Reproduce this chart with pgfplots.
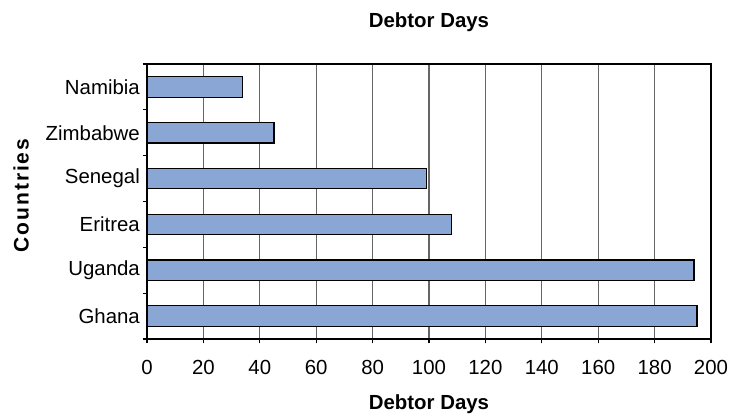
\documentclass[border=0pt]{standalone}
\usepackage{fontspec}
\setmainfont{Liberation Sans}
\newfontfamily\spacedbold[LetterSpace=9]{Liberation Sans Bold}
\usepackage{pgfplots}
\pgfplotsset{compat=1.18}
\definecolor{barblue}{RGB}{138,166,212}
\begin{document}
\fontsize{10.2pt}{12pt}\selectfont
\begin{tikzpicture}
\useasboundingbox (-73.5pt,-39pt) rectangle (292.5pt,169.5pt);
\begin{axis}[
  name=ax, at={(0,0)}, anchor=south west,
  scale only axis, width=282pt, height=137.5pt,
  xbar, bar width=10.2pt,
  xmin=0, xmax=200, ymin=-0.5, ymax=5.5,
  xtick={0,20,...,200},
  ytick={-0.5,0.5,...,5.5},
  yticklabels={},
  extra y ticks={0,1,2,3,4,5},
  extra y tick labels={Ghana,Uganda,Eritrea,Senegal,Zimbabwe,Namibia},
  extra y tick style={major tick length=0pt, grid=none},
  xtick pos=bottom, ytick pos=left,
  tick align=outside,
  major tick length=2.2pt,
  xmajorgrids,
  major grid style={black!60, line width=0.6pt},
  axis line style={black, line width=0.6pt},
  tick style={black, line width=0.6pt},
  /pgf/number format/assume math mode=true,
  ticklabel style={font=\fontsize{10.2pt}{12pt}\selectfont},
  xticklabel style={yshift=-5pt},
]
\addplot[fill=barblue, draw=black, line width=0.6pt]
  coordinates {(195,0) (194,1) (108,2) (99,3) (45,4) (34,5)};
\end{axis}
\node[font=\bfseries] at ([yshift=21pt]ax.north) {Debtor Days};
\node[font=\bfseries] at ([yshift=-32.5pt]ax.south) {Debtor Days};
\node[font=\fontsize{10.5pt}{12pt}\spacedbold, rotate=90] at ([xshift=-63pt,yshift=3pt]ax.west) {Countries};
\end{tikzpicture}
\end{document}
